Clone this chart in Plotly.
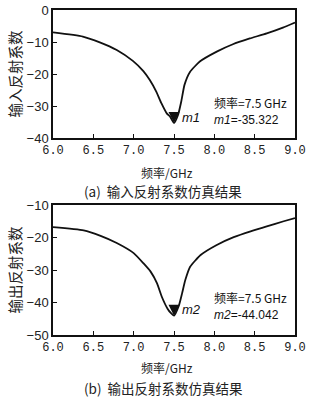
import plotly.graph_objects as go

# ---- data ----
freq_a = [6.0, 6.37, 6.58, 6.79, 6.99, 7.12, 7.20, 7.28, 7.345, 7.41, 7.45, 7.5,
          7.55, 7.59, 7.63, 7.70, 7.82, 8.03, 8.23, 8.44, 8.65, 8.85, 9.0]
s11_a = [-7.0, -8.3, -10.1, -12.5, -15.9, -19.1, -21.9, -25.5, -29.2, -32.3, -33.3, -35.322,
         -32.8, -28.6, -23.4, -19.3, -16.1, -13.0, -10.7, -8.9, -7.3, -5.5, -3.9]

freq_b = [6.0, 6.38, 6.59, 6.79, 7.0, 7.12, 7.21, 7.29, 7.35, 7.42, 7.46, 7.5,
          7.56, 7.60, 7.64, 7.70, 7.83, 8.03, 8.24, 8.45, 8.65, 8.86, 9.0]
s22_b = [-16.8, -17.8, -19.5, -21.7, -24.8, -27.9, -30.5, -34.1, -38.3, -41.9, -43.2, -44.042,
         -41.0, -37.2, -33.1, -29.0, -25.4, -22.3, -19.9, -18.1, -16.6, -15.0, -14.0]

marker_freq = [7.5, 7.5]
marker_val = [-35.322, -44.042]
marker_names = ["m1", "m2"]

x_ticks = [6.0, 6.5, 7.0, 7.5, 8.0, 8.5, 9.0]
y_ticks_a = [0, -10, -20, -30, -40]
y_ticks_b = [-10, -20, -30, -40, -50]

y_titles = ["输入反射系数", "输出反射系数"]
x_title = "频率/GHz"
captions = ["(a)  输入反射系数仿真结果", "(b)  输出反射系数仿真结果"]

# ---- figure ----
H_T, H_B = 10, 65
PH = 400 - H_T - H_B  # 325


def py(p):  # pixel y -> paper y
    return (400 - H_B - p) / PH


fig = go.Figure()
fig.add_trace(go.Scatter(x=freq_a, y=s11_a, mode="lines", line=dict(color="#111", width=1.8, shape="spline", smoothing=0.5),
                         xaxis="x", yaxis="y", showlegend=False))
fig.add_trace(go.Scatter(x=freq_b, y=s22_b, mode="lines", line=dict(color="#111", width=1.8, shape="spline", smoothing=0.5),
                         xaxis="x2", yaxis="y2", showlegend=False))
fig.add_trace(go.Scatter(x=[marker_freq[0]], y=[marker_val[0]], mode="markers",
                         marker=dict(symbol="arrow-down", size=11, color="#111"), xaxis="x", yaxis="y", showlegend=False))
fig.add_trace(go.Scatter(x=[marker_freq[1]], y=[marker_val[1]], mode="markers",
                         marker=dict(symbol="arrow-down", size=11, color="#111"), xaxis="x2", yaxis="y2", showlegend=False))

FONT = "Noto Sans CJK SC, Liberation Sans, sans-serif"
axis_common = dict(showline=True, mirror=True, linecolor="#111", linewidth=1.5, ticks="inside",
                   ticklen=4, tickcolor="#111", showgrid=False, zeroline=False)
xfont = dict(family="Liberation Mono, monospace", size=12, color="#222")
yfont = dict(family="Liberation Sans, Arial, sans-serif", size=13, color="#222")
ytitle_font = dict(family=FONT, size=14.5, color="#222")

fig.update_layout(
    width=323, height=400,
    margin=dict(l=53, r=28, t=H_T, b=H_B, autoexpand=False),
    paper_bgcolor="white", plot_bgcolor="white",
    font=dict(family=FONT, color="#222"),
    xaxis=dict(domain=[0, 1], anchor="y", range=[6, 9], tickvals=x_ticks, tickformat=".1f",
               tickfont=xfont, **axis_common),
    yaxis=dict(domain=[py(138), 1], anchor="x", range=[-40, 0], tickvals=y_ticks_a,
               tickfont=yfont, title=dict(text=y_titles[0], font=ytitle_font, standoff=2), **axis_common),
    xaxis2=dict(domain=[0, 1], anchor="y2", range=[6, 9], tickvals=x_ticks, tickformat=".1f",
                tickfont=xfont, **axis_common),
    yaxis2=dict(domain=[0, py(205)], anchor="x2", range=[-50, -10], tickvals=y_ticks_b,
                tickfont=yfont, title=dict(text=y_titles[1], font=ytitle_font, standoff=2), **axis_common),
)

ann = []
# x titles and captions
for pc in [172, 367]:
    ann.append(dict(text=x_title, x=0.47, y=py(pc), xref="paper", yref="paper", showarrow=False,
                    font=dict(size=12, family=FONT, color="#222"), yanchor="middle"))
for cap, pc in zip(captions, [191, 388]):
    ann.append(dict(text=cap, x=0.455, y=py(pc), xref="paper", yref="paper", showarrow=False,
                    font=dict(size=13.5, family=FONT, color="#222"), yanchor="middle"))
# marker labels
for i, (xr, yr) in enumerate([("x", "y"), ("x2", "y2")]):
    name = marker_names[i]
    ann.append(dict(text=f"<i>{name}</i>", x=marker_freq[i], y=marker_val[i], xref=xr, yref=yr, showarrow=False,
                    xanchor="left", yanchor="middle", xshift=6, yshift=6,
                    font=dict(size=13, family="Liberation Sans, Arial, sans-serif", color="#111")))
    ann.append(dict(text=f"频率={marker_freq[i]} GHz", x=1, y=0, xref=xr + " domain", yref=yr + " domain",
                    showarrow=False, xanchor="right", yanchor="bottom", xshift=-6, yshift=[25, 27][i],
                    font=dict(size=12, family=FONT, color="#111")))
    ann.append(dict(text=f"<i>{name}</i>={marker_val[i]:.3f}", x=1, y=0, xref=xr + " domain", yref=yr + " domain",
                    showarrow=False, xanchor="right", yanchor="bottom", xshift=-14, yshift=[9, 11][i],
                    font=dict(size=12, family="Liberation Sans, Arial, sans-serif", color="#111")))
fig.update_layout(annotations=ann)

fig.write_html("out.html")
